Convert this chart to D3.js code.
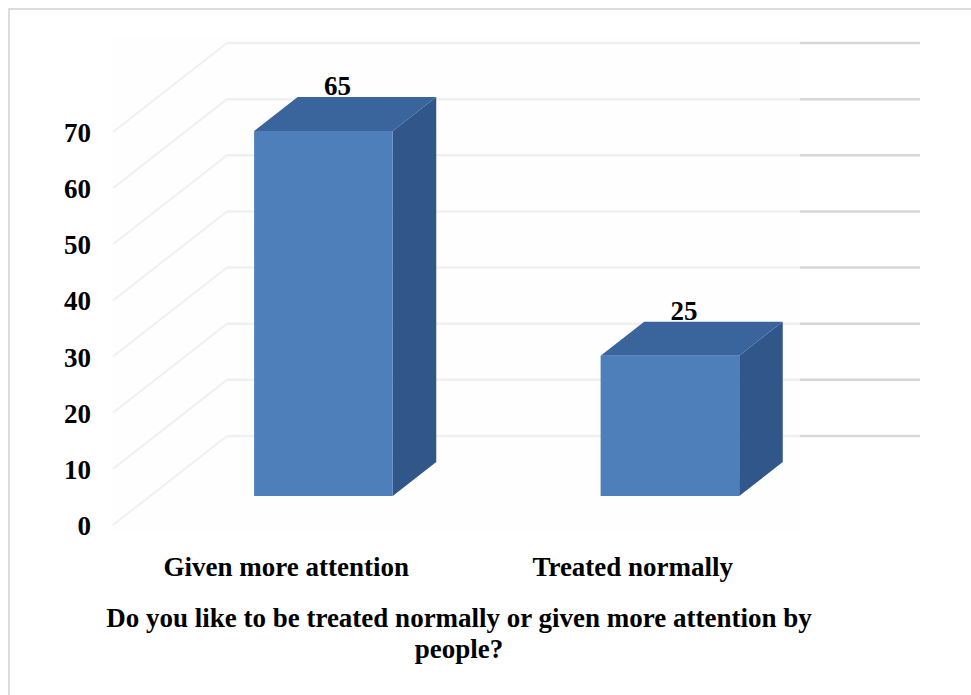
<!DOCTYPE html>
<html>
<head>
<meta charset="utf-8">
<script src="https://cdn.jsdelivr.net/npm/d3@7/dist/d3.min.js"></script>
<style>
  html, body { margin: 0; padding: 0; background: #fff; }
  svg text { font-family: "Liberation Serif", "Times New Roman", serif; font-weight: bold; fill: #000; }
</style>
</head>
<body>
<svg id="chart" width="971" height="695"></svg>
<script>
// Survey answers and counts
const categories = ["Given more attention", "Treated normally"];
const values = [65, 25];
const tickValues = [0, 10, 20, 30, 40, 50, 60, 70];
const titleLines = ["Do you like to be treated normally or given more attention by", "people?"];

const svg = d3.select("#chart");

// Oblique 3D projection: z = 0 is the front plane, z = 1 the back wall
const depthX = 114, depthY = 89;
const x = d3.scaleBand().domain(categories).range([113, 806]).paddingInner(0.6).paddingOuter(0.3);
const y = d3.scaleLinear().domain([0, 70]).range([436, 43]);
const proj = (px, v, z) => [px + z * depthX, y(v) + (1 - z) * depthY];
const barZ0 = 0.326, barZ1 = 0.708;

// outer frame
svg.append("rect").attr("x", 9).attr("y", 9).attr("width", 990).attr("height", 720)
  .attr("fill", "none").attr("stroke", "#d9d9d9").attr("stroke-width", 1.8);

// side wall gridlines (diagonal)
const grid = svg.append("g");
grid.selectAll("line.side").data(tickValues).join("line").attr("class", "side")
  .attr("x1", d => proj(113, d, 0)[0]).attr("y1", d => proj(113, d, 0)[1])
  .attr("x2", d => proj(113, d, 1)[0]).attr("y2", d => proj(113, d, 1)[1])
  .attr("stroke", "#d6d6d6").attr("stroke-width", 2);

// back wall gridlines
grid.selectAll("line.back").data(tickValues).join("line").attr("class", "back")
  .attr("x1", proj(113, 0, 1)[0]).attr("x2", proj(806, 0, 1)[0])
  .attr("y1", d => y(d)).attr("y2", d => y(d))
  .attr("stroke", "#d6d6d6").attr("stroke-width", 2.5);

// faint wash over the left part of the walls
svg.append("rect").attr("x", 112).attr("y", 36).attr("width", 688).attr("height", 496)
  .attr("fill", "#fdfdfd").attr("opacity", 0.66);

// bars
const bars = svg.append("g").selectAll("g").data(categories.map((c, i) => ({c, v: values[i]}))).join("g");
const pts = arr => arr.map(p => p.join(",")).join(" ");

// right side face
bars.append("polygon").attr("fill", "#31578a").attr("points", d => {
  const r = x(d.c) + x.bandwidth();
  return pts([proj(r, 0, barZ0), proj(r, 0, barZ1), proj(r, d.v, barZ1), proj(r, d.v, barZ0)]);
});
// top face
bars.append("polygon").attr("fill", "#3a649c").attr("points", d => {
  const l = x(d.c), r = l + x.bandwidth();
  return pts([proj(l, d.v, barZ0), proj(r, d.v, barZ0), proj(r, d.v, barZ1), proj(l, d.v, barZ1)]);
});
// front face
bars.append("polygon").attr("fill", "#4e7fbb").attr("points", d => {
  const l = x(d.c), r = l + x.bandwidth();
  return pts([proj(l, 0, barZ0), proj(r, 0, barZ0), proj(r, d.v, barZ0), proj(l, d.v, barZ0)]);
});

// value labels
bars.append("text").attr("text-anchor", "middle").attr("dominant-baseline", "central")
  .style("font-size", "27px")
  .attr("x", d => x(d.c) + x.bandwidth() / 2 + 0.45 * depthX)
  .attr("y", d => proj(0, d.v, barZ1)[1] - 11)
  .text(d => d.v);

// value axis labels
svg.append("g").selectAll("text").data(tickValues).join("text")
  .attr("text-anchor", "end").attr("dominant-baseline", "central")
  .style("font-size", "27px")
  .attr("x", 91).attr("y", d => proj(113, d, 0)[1] + 1)
  .text(d => d);

// category labels
svg.append("g").selectAll("text").data(categories).join("text")
  .attr("text-anchor", "middle").attr("dominant-baseline", "central")
  .style("font-size", "27px")
  .attr("x", d => x(d) + x.bandwidth() / 2).attr("y", 567)
  .text(d => d);

// axis title
svg.append("text").attr("text-anchor", "middle").style("font-size", "27px")
  .selectAll("tspan").data(titleLines).join("tspan")
  .attr("x", 459).attr("y", (d, i) => 627 + i * 31)
  .text(d => d);
</script>
</body>
</html>
